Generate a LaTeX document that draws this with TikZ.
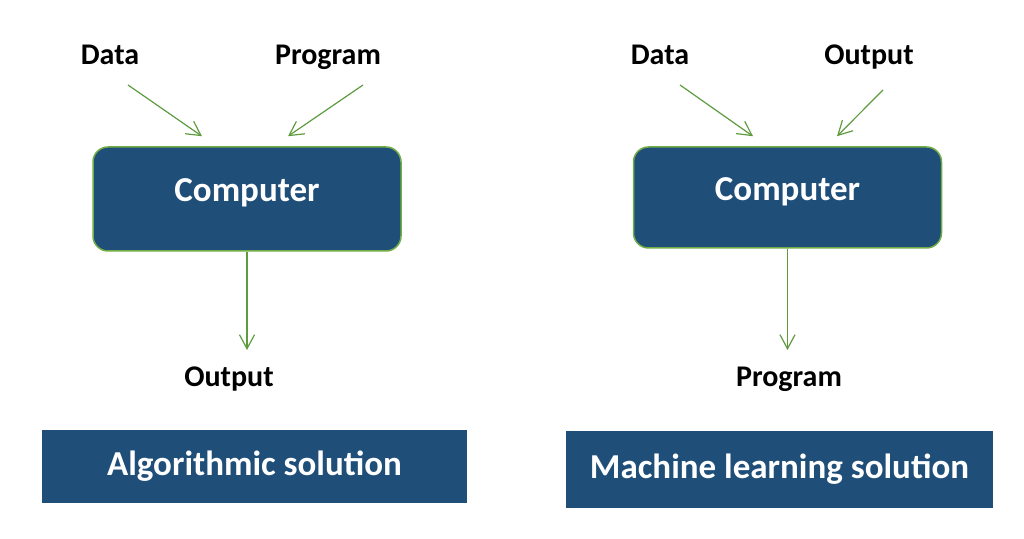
\documentclass[tikz,border=0pt]{standalone}
\usepackage{fontspec}
\setmainfont{Carlito}
\usepackage{tikz}
\usetikzlibrary{positioning}
\usetikzlibrary{arrows.meta}

\definecolor{boxblue}{HTML}{1F4E79}
\definecolor{boxgreen}{HTML}{70AD47}
\definecolor{arrowgreen}{HTML}{5E9B3F}

\begin{document}
\begin{tikzpicture}[x=0.5pt,y=0.5pt,
		lab/.style = {anchor=base,inner sep=0pt,font=\bfseries\fontsize{15}{18}\selectfont},
		comp/.style = {fill=boxblue,draw=boxgreen,line width=0.75pt,rectangle,rounded corners=7.5pt,minimum width=154pt,minimum height=52pt,text=white,text height=11.5pt,text depth=8.5pt,font=\bfseries\fontsize{17.5}{21}\selectfont},
		sol/.style = {fill=boxblue,rectangle,text=white,font=\bfseries\fontsize{17.5}{21}\selectfont},
		flow/.style = {arrowgreen,line width=0.6pt,-{Straight Barb[length=7pt,width=7.5pt]}}]
		\useasboundingbox (0,0) rectangle (1024,539);
		% algorithmic solution
		\node[lab] at (110,474) (dataA) {Data};
		\node[lab] at (328,474) (progA) {Program};
		\node[comp] at (247,340) (compA) {Computer};
		\node[lab] at (229,152) (outA) {Output};
		\node[sol,minimum width=212.5pt,minimum height=36.5pt] at (254.5,72.5) (solA) {Algorithmic solution};
		% machine learning solution
		\node[lab] at (660,474) (dataB) {Data};
		\node[lab] at (869,474) (outB) {Output};
		\node[comp,minimum height=50.5pt] at (787.5,341.5) (compB) {Computer};
		\node[lab] at (789,152) (progB) {Program};
		\node[sol,minimum width=213.5pt,minimum height=38.5pt] at (779.5,69.5) (solB) {Machine learning solution};
		\draw[flow] ([shift={(18,-20)}]dataA.base) to ([shift={(-45,10)}]compA.north);
		\draw[flow] ([shift={(35,-20)}]progA.base) to ([shift={(41,10)}]compA.north);
		\draw[flow] (compA.south) to ([shift={(18,37)}]outA.base);
		\draw[flow] ([shift={(20,-20)}]dataB.base) to ([shift={(-34.5,10)}]compB.north);
		\draw[flow] ([shift={(14,-25)}]outB.base) to ([shift={(49.5,10)}]compB.north);
		\draw[flow] (compB.south) to ([shift={(-1.5,37)}]progB.base);
	\end{tikzpicture}
\end{document}
